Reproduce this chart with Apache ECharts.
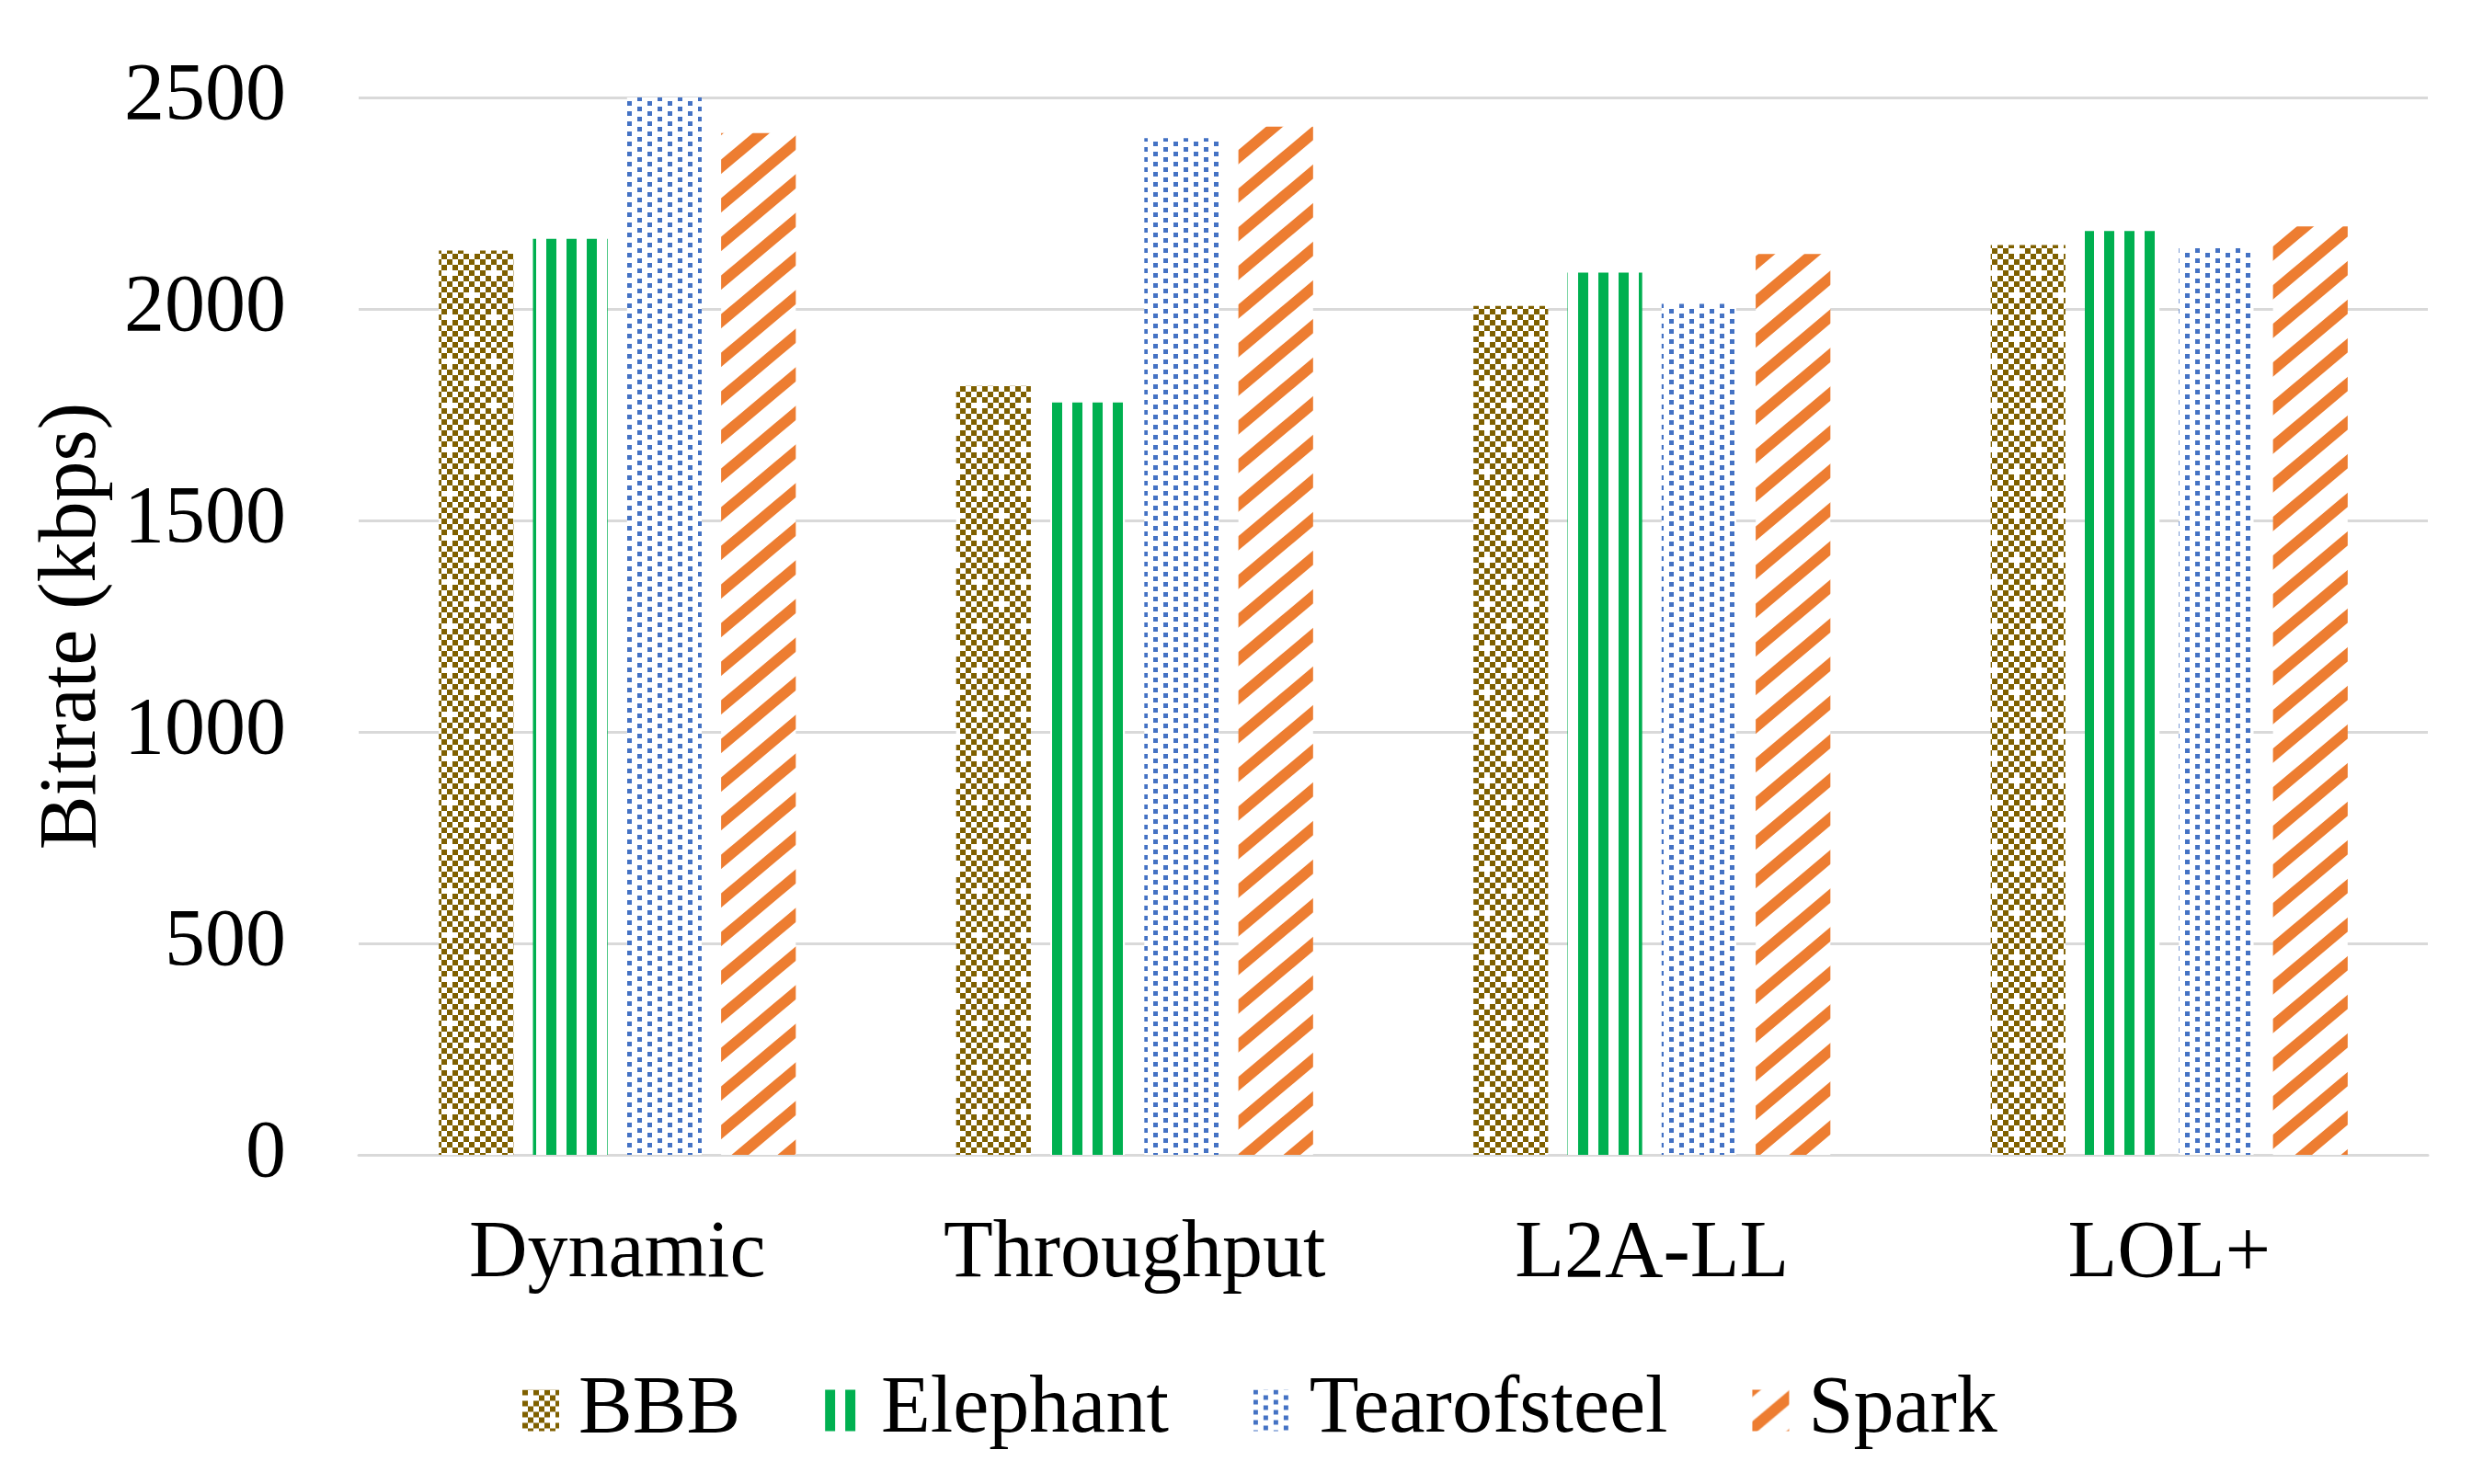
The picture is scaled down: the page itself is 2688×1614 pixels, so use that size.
<!DOCTYPE html>
<html><head><meta charset="utf-8">
<script src="https://cdn.jsdelivr.net/npm/echarts@6/dist/echarts.min.js"></script>
<style>html,body{margin:0;padding:0;background:#fff}#c{width:2688px;height:1614px}</style>
</head><body><div id="c"></div>
<script>
const categories = ['Dynamic', 'Throughput', 'L2A-LL', 'LOL+'];
const seriesNames = ['BBB', 'Elephant', 'Tearofsteel', 'Spark'];
const bbb = [2138, 1818, 2007, 2151];
const elephant = [2166, 1779, 2086, 2184];
const tearofsteel = [2500, 2404, 2012, 2144];
const spark = [2416, 2431, 2130, 2195];
const yMin = 0, yMax = 2500, yStep = 500;

function makeTile(w, h, draw) {
  const c = document.createElement('canvas');
  c.width = w; c.height = h;
  const g = c.getContext('2d');
  g.fillStyle = '#fff'; g.fillRect(0, 0, w, h);
  draw(g);
  return c;
}
const pBBB = makeTile(48, 48, g => {
  g.fillStyle = '#7F6000';
  for (let i = 0; i < 8; i++) for (let j = 0; j < 8; j++) {
    const hole = (i === 1 && j === 1) || (i === 5 && j === 5);
    if ((i + j) % 2 === 0 && !hole) g.fillRect(i * 6, j * 6, 6, 6);
  }
});
const pEle = makeTile(22, 4, g => { g.fillStyle = '#00B050'; g.fillRect(0, 0, 11, 4); });
const pTear = makeTile(22, 11, g => {
  g.fillStyle = '#4472C4';
  g.fillRect(0, 0, 5, 5); g.fillRect(11, 6, 5, 5); g.fillRect(11, -5, 5, 5);
});
const pSpark = makeTile(50, 42, g => {
  g.strokeStyle = '#ED7D31'; g.lineWidth = 12;
  [[-50, 42, 50, -42], [0, 42, 50, 0], [0, 84, 100, 0]].forEach(a => {
    g.beginPath(); g.moveTo(a[0], a[1]); g.lineTo(a[2], a[3]); g.stroke();
  });
});
const patterns = [pBBB, pEle, pTear, pSpark];
const values = [bbb, elephant, tearofsteel, spark];
const font = 'Liberation Serif';

const chart = echarts.init(document.getElementById('c'));
chart.setOption({
  backgroundColor: '#fff',
  animation: false,
  grid: { left: 390, right: 48, top: 106, bottom: 358 },
  legend: {
    left: 563, top: 1485, itemWidth: 40, itemHeight: 45, itemGap: 92,
    icon: 'rect',
    textStyle: { fontFamily: font, fontSize: 88, color: '#000', padding: [0, 0, 0, 16] },
    data: seriesNames
  },
  xAxis: {
    type: 'category', data: categories,
    axisLine: { lineStyle: { color: '#D9D9D9', width: 3 } },
    axisTick: { show: false },
    axisLabel: { fontFamily: font, fontSize: 88, color: '#000', margin: 65 }
  },
  yAxis: {
    type: 'value', min: yMin, max: yMax, interval: yStep,
    name: 'Bitrate (kbps)', nameLocation: 'middle', nameGap: 245,
    nameTextStyle: { fontFamily: font, fontSize: 88, color: '#000' },
    axisLine: { show: false }, axisTick: { show: false },
    splitLine: { lineStyle: { color: '#D9D9D9', width: 3 } },
    axisLabel: { fontFamily: font, fontSize: 88, color: '#000', margin: 79, formatter: v => String(v) }
  },
  series: seriesNames.map((n, i) => ({
    name: n, type: 'bar', data: values[i],
    barGap: '26%', barCategoryGap: '31%',
    itemStyle: { color: { image: patterns[i], repeat: 'repeat' } }
  }))
});
</script></body></html>
